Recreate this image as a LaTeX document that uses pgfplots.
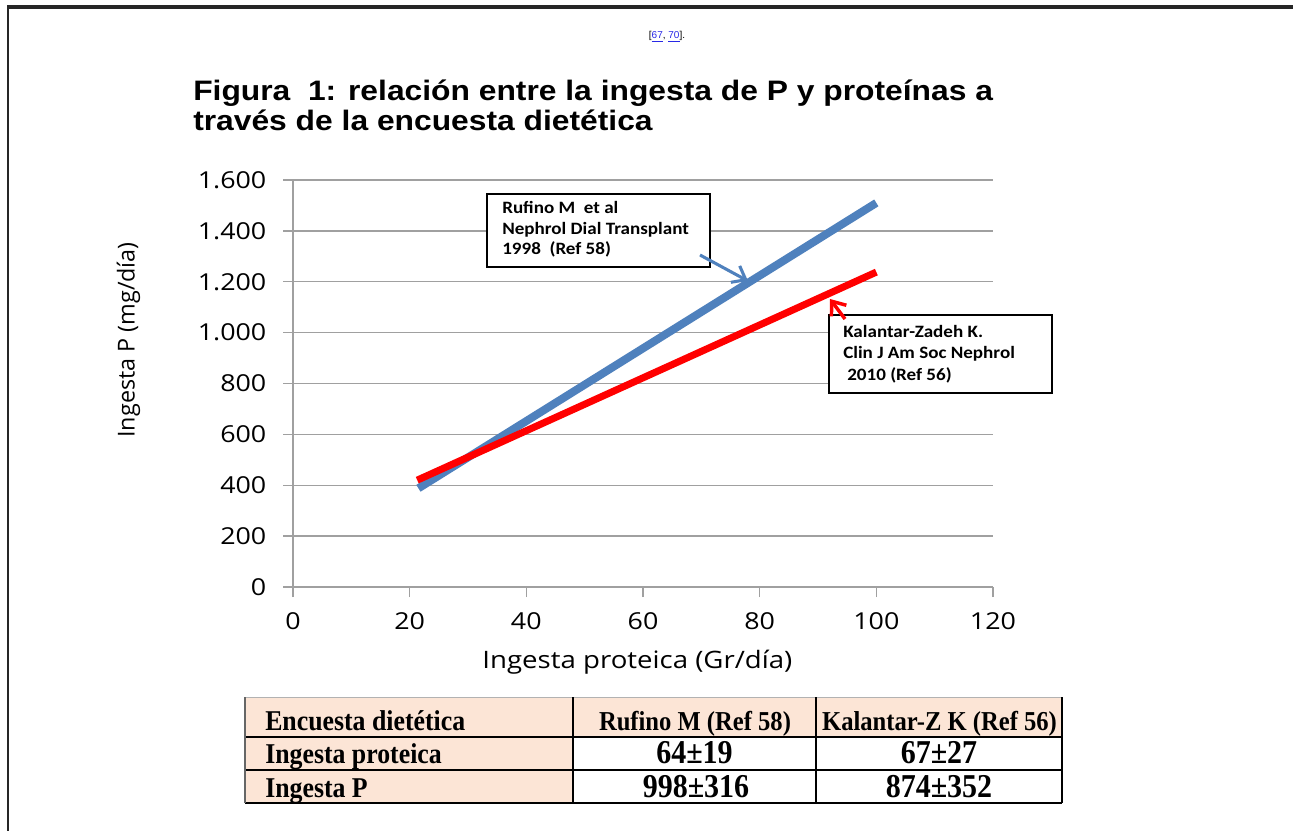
\documentclass[border=0pt]{standalone}
\usepackage{fontspec}
\setmainfont{Open Sans}[FakeStretch=1.15]
\newfontfamily\plainopen{Open Sans}
\newfontfamily\titlefont{Liberation Sans}[FakeStretch=1.13]
\newfontfamily\reffont{Liberation Sans}
\newfontfamily\boxfont{Carlito}[FakeStretch=1.1]
\newfontfamily\tablefont{Liberation Serif}[FakeStretch=0.9]
\usepackage{pgfplots}
\pgfplotsset{compat=1.18}
\usetikzlibrary{arrows.meta}
\definecolor{exblue}{RGB}{79,129,189}
\definecolor{peach}{RGB}{252,229,214}
\definecolor{gridgray}{RGB}{160,160,160}
\definecolor{linkblue}{RGB}{40,40,230}
\begin{document}
\begin{tikzpicture}
\begin{scope}[x=0.75pt,y=-0.75pt]
\useasboundingbox (0,0) rectangle (1293,831);
\fill[white] (0,0) rectangle (1293,831);
% page border
\draw[line width=2.4pt, black!85] (7,7) -- (1293,7);
\draw[line width=1.5pt, black!85] (8,6) -- (8,831);
% reference
\node[anchor=base, inner sep=0] at (667,39) {\reffont\fontsize{7.5}{9}\selectfont [\textcolor{linkblue}{\underline{67}}, \textcolor{linkblue}{\underline{70}}].};
% title
\node[anchor=base west, inner sep=0] at (193,101) {\titlefont\bfseries\fontsize{21.1}{24}\selectfont Figura\ \ 1: relación entre la ingesta de P y proteínas a};
\node[anchor=base west, inner sep=0] at (193,131) {\titlefont\bfseries\fontsize{21.1}{24}\selectfont través de la encuesta dietética};
\end{scope}

\begin{axis}[
  at={(219.75pt,-440.25pt)}, anchor=south west,
  scale only axis, width=525pt, height=305.25pt,
  xmin=0, xmax=120, ymin=0, ymax=1600,
  xtick={0,20,...,120}, ytick={0,200,...,1600},
  axis x line*=bottom, axis y line*=left,
  axis line style={-, gridgray, line width=1pt},
  ymajorgrids, grid style={gridgray, line width=1pt},
  tick style={gridgray, line width=1pt},
  tick align=outside, major tick length=7.5pt,
  /pgf/number format/1000 sep={.},
  /pgf/number format/assume math mode=true,
  ticklabel style={font=\fontsize{17.5}{20}\selectfont},
  yticklabel style={xshift=-9pt},
  xticklabel style={yshift=-8pt},
  xlabel={Ingesta proteica (Gr/día)},
  ylabel={\plainopen Ingesta P (mg/día)},
  xlabel style={font=\fontsize{18}{21}\selectfont, at={(axis description cs:0.492,-0.185)}, anchor=center},
  ylabel style={font=\fontsize{17.5}{21}\selectfont, at={(axis description cs:-0.235,0.607)}, anchor=center},
  clip=false,
]
\addplot[exblue, line width=6pt] coordinates {(21.5,388) (100,1510)};
\addplot[red, line width=5.3pt] coordinates {(21.3,420) (100,1238)};
\end{axis}

\begin{scope}[x=0.75pt,y=-0.75pt]
% annotation boxes
\draw[black, line width=0.9pt, fill=white] (487,194) rectangle (710,267);
\node[anchor=base west, inner sep=0] at (502,214) {\boxfont\bfseries\fontsize{13}{15}\selectfont Rufino M\ \ et al};
\node[anchor=base west, inner sep=0] at (502,234) {\boxfont\bfseries\fontsize{13}{15}\selectfont Nephrol Dial Transplant};
\node[anchor=base west, inner sep=0] at (502,255) {\boxfont\bfseries\fontsize{13}{15}\selectfont 1998\ \ (Ref 58)};

\draw[black, line width=0.9pt, fill=white] (829,315) rectangle (1052,393);
\node[anchor=base west, inner sep=0] at (843,337) {\boxfont\bfseries\fontsize{13}{15}\selectfont Kalantar-Zadeh K.};
\node[anchor=base west, inner sep=0] at (843,358) {\boxfont\bfseries\fontsize{13}{15}\selectfont Clin J Am Soc Nephrol};
\node[anchor=base west, inner sep=0] at (847,380) {\boxfont\bfseries\fontsize{13}{15}\selectfont 2010 (Ref 56)};

% arrows (annotations)
\draw[exblue, line width=2.3pt, -{Straight Barb[length=9pt, width=14pt]}] (700,255) -- (748,281);
\draw[red, line width=2.6pt, -{Straight Barb[length=9pt, width=14pt]}] (845,319) -- (830,299);

% table
\fill[peach] (245,697) rectangle (1062,737);
\fill[peach] (245,737) rectangle (573,803);
\draw[black!30, line width=0.5pt] (245,697) -- (1062,697);
\draw[black, line width=0.8pt] (245,737) -- (1062,737);
\draw[black, line width=0.8pt] (245,770) -- (1062,770);
\draw[black, line width=1.4pt] (245,803) -- (1062,803);
\draw[black!60, line width=0.8pt] (245,697) -- (245,803);
\draw[black, line width=0.8pt] (573,697) -- (573,803);
\draw[black, line width=0.8pt] (816,697) -- (816,803);
\draw[black, line width=0.8pt] (1062,697) -- (1062,803);

\node[anchor=base west, inner sep=0] at (265,730) {\tablefont\bfseries\fontsize{21.5}{24}\selectfont Encuesta dietética};
\node[anchor=base, inner sep=0] at (695,730) {\tablefont\bfseries\fontsize{20.5}{24}\selectfont Rufino M (Ref 58)};
\node[anchor=base, inner sep=0] at (939.5,730) {\tablefont\bfseries\fontsize{20.5}{24}\selectfont Kalantar-Z K (Ref 56)};
\node[anchor=base west, inner sep=0] at (265,763) {\tablefont\bfseries\fontsize{21.5}{24}\selectfont Ingesta proteica};
\node[anchor=base, inner sep=0] at (694.5,763) {\tablefont\bfseries\fontsize{25}{28}\selectfont 64±19};
\node[anchor=base, inner sep=0] at (939,763) {\tablefont\bfseries\fontsize{25}{28}\selectfont 67±27};
\node[anchor=base west, inner sep=0] at (265,797) {\tablefont\bfseries\fontsize{21.5}{24}\selectfont Ingesta P};
\node[anchor=base, inner sep=0] at (696,797) {\tablefont\bfseries\fontsize{25}{28}\selectfont 998±316};
\node[anchor=base, inner sep=0] at (939,797) {\tablefont\bfseries\fontsize{25}{28}\selectfont 874±352};
\end{scope}
\end{tikzpicture}
\end{document}
